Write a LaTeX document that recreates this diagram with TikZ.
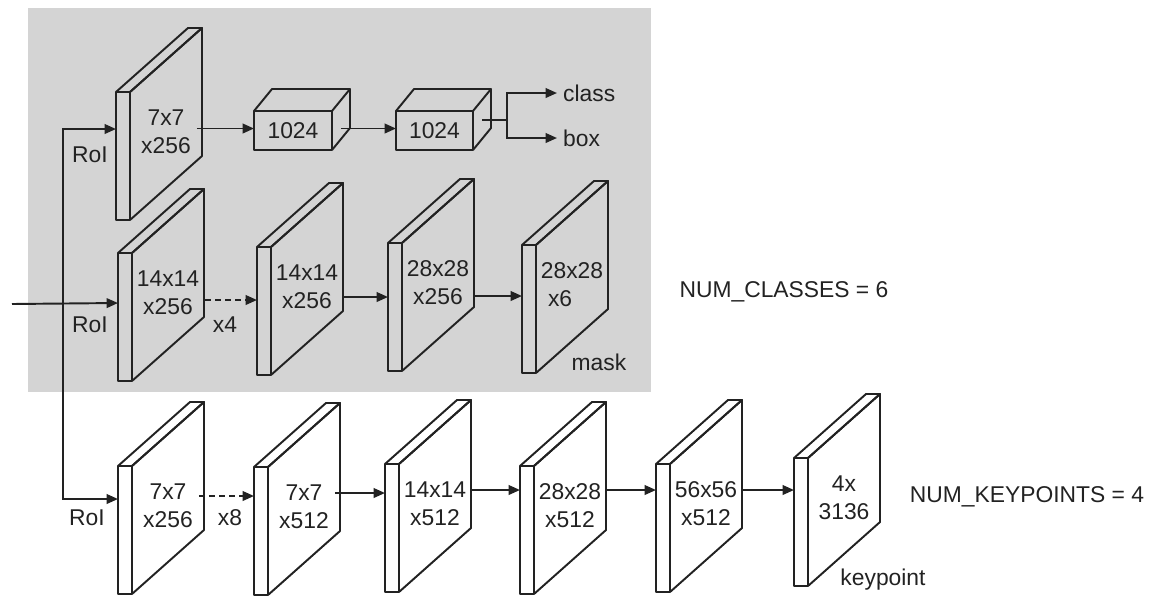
\documentclass[tikz,border=0pt]{standalone}
\usepackage{fontspec}
\setmainfont{Liberation Sans}
\usetikzlibrary{arrows.meta}
\definecolor{panel}{RGB}{212,212,212}
\definecolor{ink}{RGB}{34,34,34}
\tikzset{slab/.style={draw=ink,line width=1.1pt,line join=round},
  lbl/.style={text=ink,font=\fontsize{13}{16}\selectfont,align=center},
  arr/.style={draw=ink,line width=1.1pt,-{Triangle[length=6.5pt,width=5.5pt]}},
  dashedarr/.style={arr,dash pattern=on 3.4pt off 2.3pt}}
% feature map: x, y (top left of front), name, text, height of the incoming arrow
\newcommand{\featmap}[5]{%
\draw[slab](#1,#2)rectangle++(14,128);
\draw[slab](#1,#2)--++(72,-64)--++(14,0)--++(-72,64);
\draw[slab](#1+14,#2)--++(72,-64)--++(0,128)--++(-72,64);
\node[lbl](#3)at(#1+50,#2+40){#4};
\coordinate(#3-i)at(#1,#2+#5);}
% fc layer: x1, y1, x2, y2, name
\newcommand{\fcunit}[5]{%
\draw[slab](#1,#2)rectangle(#3,#4);
\draw[slab](#1,#2)--++(18,-22)--(#3+18,#2-22)--(#3,#2);
\draw[slab](#3+18,#2-22)--(#3+18,#4-22)--(#3,#4);
\node[lbl](#5)at({(#1+#3)/2},{(#2+#4)/2}){1024};
\coordinate(#5-i)at(#1,{(#2+#4)/2-2});\coordinate(#5-o)at(#3+9,{(#2+#4)/2-2});}

\begin{document}
\begin{tikzpicture}[x=0.02cm,y=-0.02cm]
\useasboundingbox(0,0)rectangle(1150,596);
\fill[panel](28,8)rectangle(651,392);
% box and class head
\featmap{116}{92}{r1}{7x7\\x256}{37}
\fcunit{254}{111}{332}{150}{b1}\fcunit{396}{111}{473}{150}{b2}
\draw[arr](r1.east|-b1-i)--(b1-i);\draw[arr](b1-o)--(b2-i);
\coordinate(fork)at(507,120);
\node[lbl,anchor=west](cls)at(557,93){class};\node[lbl,anchor=west](bx)at(557,138){box};
\draw[slab](fork-|b2-o)--(fork);\draw[arr](fork)|-(cls);\draw[arr](fork)|-(bx);
% mask head
\featmap{118}{253}{m1}{14x14\\x256}{50}\featmap{257}{247}{m2}{14x14\\x256}{53}
\featmap{388}{243}{m3}{28x28\\x256}{54}\featmap{522}{245}{m4}{28x28\\\makebox[1.24cm][l]{\hspace{.14cm}x6}}{51}
\draw[dashedarr](m1.east|-m2-i)--(m2-i);\draw[arr](m2.east|-m3-i)--(m3-i);\draw[arr](m3.east|-m4-i)--(m4-i);
\node[lbl,anchor=base](x4)at(225,332){x4};\node[lbl,anchor=base](mask)at(599,370){mask};
\node[lbl,anchor=base](ncls)at(784,297){NUM\_CLASSES = 6};
% keypoint head
\featmap{118}{466}{k1}{7x7\\x256}{33}\featmap{254}{467}{k2}{7x7\\x512}{29}
\featmap{385}{464}{k3}{14x14\\x512}{29}\featmap{520}{466}{k4}{28x28\\x512}{24}
\featmap{656}{464}{k5}{56x56\\x512}{26}\featmap{794}{458}{k6}{4x\\3136}{32}
\draw[dashedarr](k1.east|-k2-i)--(k2-i);\draw[arr](k2.east|-k3-i)--(k3-i);\draw[arr](k3.east|-k4-i)--(k4-i);
\draw[arr](k4.east|-k5-i)--(k5-i);\draw[arr](k5.east|-k6-i)--(k6-i);
\node[lbl,anchor=base](x8)at(230,525){x8};\node[lbl,anchor=base](kp)at(883,585){keypoint};
\node[lbl,anchor=base](nkp)at(1027,502){NUM\_KEYPOINTS = 4};
% RoI inputs
\coordinate(in)at(12,304);\coordinate(split)at(63,304);
\draw[arr](in)--(m1-i);\draw[arr](split)|-(r1-i);\draw[arr](split)|-(k1-i);
\node[lbl,anchor=base](roi1)at(90,162){RoI};\node[lbl,anchor=base](roi2)at(90,332){RoI};\node[lbl,anchor=base](roi3)at(87,525){RoI};
\end{tikzpicture}
\end{document}
